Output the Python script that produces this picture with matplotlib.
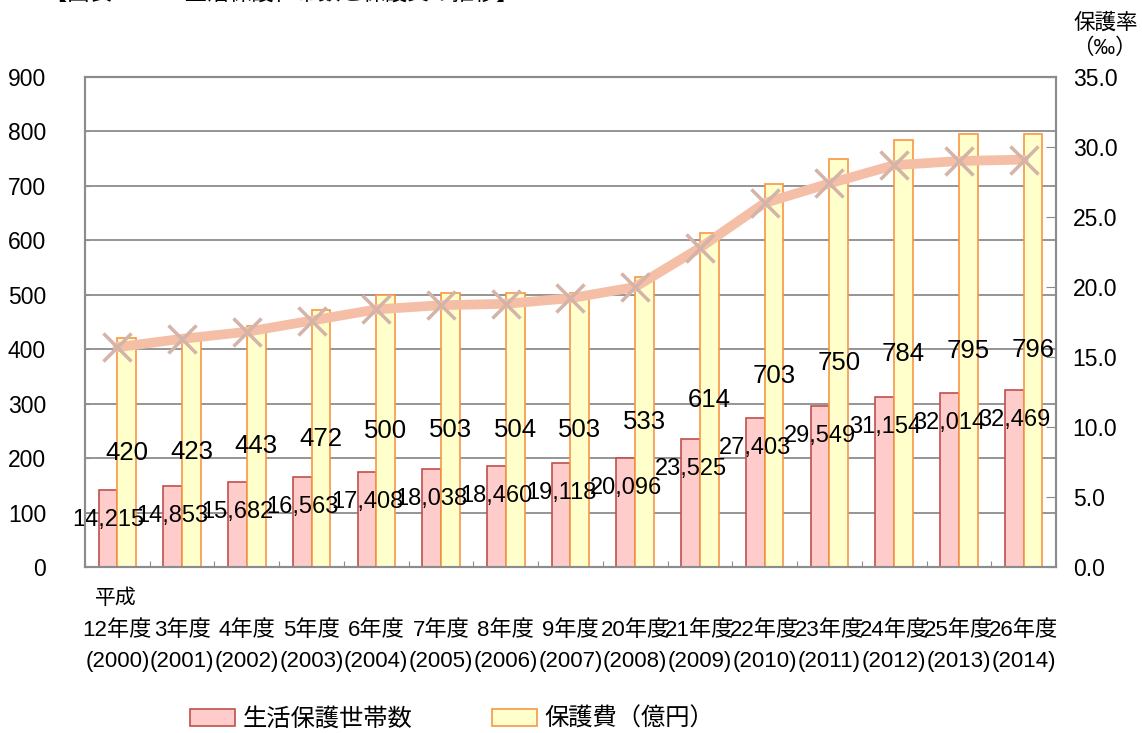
import numpy as np
import matplotlib
matplotlib.use('Agg')
import matplotlib.pyplot as plt

plt.rcParams['font.family'] = ['Liberation Sans', 'Noto Sans CJK JP', 'DejaVu Sans']

years = ['12年度', '3年度', '4年度', '5年度', '6年度', '7年度', '8年度', '9年度',
         '20年度', '21年度', '22年度', '23年度', '24年度', '25年度', '26年度']
years_ad = ['2000', '2001', '2002', '2003', '2004', '2005', '2006', '2007',
            '2008', '2009', '2010', '2011', '2012', '2013', '2014']
households = [14215, 14853, 15682, 16563, 17408, 18038, 18460, 19118,
              20096, 23525, 27403, 29549, 31154, 32014, 32469]
costs = [420, 423, 443, 472, 500, 503, 504, 503, 533, 614, 703, 750, 784, 795, 796]
rate = [15.7, 16.3, 16.8, 17.6, 18.4, 18.7, 18.8, 19.2, 20.0, 22.8, 26.0, 27.4, 28.7, 29.0, 29.1]

pink_face, pink_edge = '#FFCCCC', '#C0504D'
yel_face, yel_edge = '#FFFFCC', '#F79646'
grid_c = '#8C8C8C'

fig = plt.figure(figsize=(11.42, 7.33), dpi=100)
ax = fig.add_axes([85 / 1142, 166 / 733, 971 / 1142, 490 / 733])
ax2 = ax.twinx()

x = np.arange(len(years))
w = 0.29
hh = np.array(households) / 100

ax.bar(x - w / 2, hh, w, color=pink_face, edgecolor=pink_edge, linewidth=1.2,
       label='生活保護世帯数', zorder=2)
ax.bar(x + w / 2, costs, w, color=yel_face, edgecolor=yel_edge, linewidth=1.2,
       label='保護費（億円）', zorder=2)

for i in range(len(x)):
    ax.annotate(f'{households[i]:,}', (x[i] - w / 2, hh[i]), xytext=(0, -30),
                textcoords='offset pixels', ha='center', va='center', fontsize=17, zorder=5)
    ax.text(x[i] + w / 2, costs[i] / 2, f'{costs[i]}', ha='center', va='center',
            fontsize=18.5, zorder=5)

ax.set_xlim(-0.5, len(x) - 0.5)
ax.set_ylim(0, 900)
ax.set_yticks(range(0, 901, 100))
ax.grid(axis='y', color=grid_c, linewidth=1.3, zorder=0)
ax.set_axisbelow(True)
ax.tick_params(axis='y', labelsize=16.5, direction='in', length=3, color=grid_c, pad=28)
ax.set_xticks(np.arange(-0.5, len(x), 1))
ax.set_xticklabels([])
ax.tick_params(axis='x', direction='in', length=4, color=grid_c)

ax2.plot(x, rate, color='#F4BFA6', linewidth=7, solid_capstyle='round', zorder=3)
ax2.plot(x, rate, linestyle='none', marker='x', markersize=20, markeredgewidth=2.5,
         color='#D4B3A8', zorder=4)
ax2.set_ylim(0, 35)
ax2.set_yticks(np.arange(0, 35.1, 5))
ax2.set_yticklabels([f'{v:.1f}' for v in np.arange(0, 35.1, 5)])
ax2.tick_params(axis='y', labelsize=16.5, direction='in', length=7, color=grid_c, pad=12)

for a in (ax, ax2):
    for s in a.spines.values():
        s.set_color(grid_c)
        s.set_linewidth(1.5)

# x labels
for i in range(len(x)):
    xf = ax.transData.transform((x[i], 0))[0] / fig.bbox.width
    fig.text(xf, 1 - 631 / 733, years[i], ha='center', va='center', fontsize=16)
    fig.text(xf, 1 - 661 / 733, f'({years_ad[i]})', ha='center', va='center', fontsize=16)
fig.text(95 / 1142, 1 - 598 / 733, '平成', ha='left', va='center', fontsize=15)

fig.text(1138 / 1142, 1 - 23 / 733, '保護率', ha='right', va='center', fontsize=15.5)
fig.text(1104 / 1142, 1 - 48 / 733, '（‰）', ha='center', va='center', fontsize=15.5)

fig.text(45 / 1142, 1 + 6 / 733, '【図表２　　 生活保護世帯数と保護費の推移】',
         ha='left', va='center', fontsize=16)

h, l = ax.get_legend_handles_labels()
fig.legend(h, l, loc='center', bbox_to_anchor=(452 / 1142, 1 - 719 / 733), ncol=2,
           frameon=False, fontsize=17.5, handlelength=1.85, handleheight=0.7,
           columnspacing=3.3, handletextpad=0.3)

fig.savefig('out.png', dpi=100)
